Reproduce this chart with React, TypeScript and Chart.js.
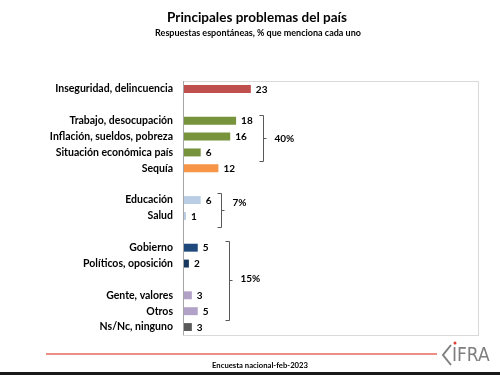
import React, { useEffect, useRef } from 'react';
import { Chart, registerables } from 'chart.js';
Chart.register(...registerables);

const titleText = 'Principales problemas del país';
const subtitleText = 'Respuestas espontáneas, % que menciona cada uno';
const footerText = 'Encuesta nacional-feb-2023';

const categories = [
  'Inseguridad, delincuencia', '',
  'Trabajo, desocupación', 'Inflación, sueldos, pobreza', 'Situación económica país', 'Sequía', '',
  'Educación', 'Salud', '',
  'Gobierno', 'Políticos, oposición', '',
  'Gente, valores', 'Otros', 'Ns/Nc, ninguno',
];
const values: (number | null)[] = [23, null, 18, 16, 6, 12, null, 6, 1, null, 5, 2, null, 3, 5, 3];
const barColors = [
  '#C0504D', '#ffffff',
  '#77933C', '#77933C', '#77933C', '#F79646', '#ffffff',
  '#B9CDE5', '#B9CDE5', '#ffffff',
  '#1F497D', '#17375E', '#ffffff',
  '#B3A2C7', '#B3A2C7', '#595959',
];
const xMax = 100;

const bracketLabels = ['40%', '7%', '15%'];
const bracketFrom = [1.64, 6.53, 9.57];
const bracketTo = [4.54, 8.67, 14.55];
const bracketMid = [3.09, 7.6, 12.06];
const bracketLabelPos = [3.15, 7.15, 11.95];
const bracketX = [27, 12.9, 15.6];

const FONT = 'Lato, "Open Sans", sans-serif';

const decorPlugin = {
  id: 'decor',
  beforeDraw(chart: any) {
    const { ctx, chartArea } = chart;
    ctx.save();
    ctx.fillStyle = '#ffffff';
    ctx.fillRect(0, 0, chart.width, chart.height);
    ctx.strokeStyle = '#d9d9d9';
    ctx.lineWidth = 1;
    ctx.strokeRect(chartArea.left + 0.5, chartArea.top + 0.5, chartArea.right - chartArea.left, chartArea.bottom - chartArea.top);
    ctx.restore();
  },
  afterDraw(chart: any) {
    const { ctx, chartArea } = chart;
    const xs = chart.scales.x;
    const ys = chart.scales.y;
    const y0 = ys.getPixelForValue(0);
    const step = ys.getPixelForValue(1) - y0;
    const catPos = (v: number) => y0 + v * step;
    ctx.save();
    ctx.strokeStyle = '#a6a6a6';
    ctx.lineWidth = 1;
    ctx.beginPath();
    ctx.moveTo(chartArea.left + 0.5, chartArea.top);
    ctx.lineTo(chartArea.left + 0.5, chartArea.bottom);
    ctx.stroke();

    ctx.fillStyle = '#000000';
    ctx.font = `bold 10px ${FONT}`;
    ctx.textAlign = 'left';
    ctx.textBaseline = 'middle';
    values.forEach((v, i) => {
      if (v === null) return;
      const x = xs.getPixelForValue(v);
      const y = ys.getPixelForValue(i);
      ctx.fillText(String(v), x + 5, y + 0.5);
    });

    ctx.strokeStyle = '#595959';
    ctx.lineWidth = 1;
    bracketLabels.forEach((lab, i) => {
      const x = Math.round(xs.getPixelForValue(bracketX[i])) + 0.5;
      const top = Math.round(catPos(bracketFrom[i])) + 0.5;
      const bot = Math.round(catPos(bracketTo[i])) + 0.5;
      const mid = Math.round(catPos(bracketMid[i])) + 0.5;
      ctx.beginPath();
      ctx.moveTo(x - 4, top);
      ctx.lineTo(x, top);
      ctx.lineTo(x, bot);
      ctx.lineTo(x - 4, bot);
      ctx.moveTo(x, mid);
      ctx.lineTo(x + 3, mid);
      ctx.stroke();
      ctx.fillStyle = '#000000';
      ctx.font = `bold 10px ${FONT}`;
      ctx.textAlign = 'left';
      ctx.fillText(lab, x + 11, catPos(bracketLabelPos[i]));
    });

    ctx.fillStyle = '#000000';
    ctx.textAlign = 'center';
    ctx.textBaseline = 'middle';
    ctx.font = `bold 13.5px ${FONT}`;
    ctx.fillText(titleText, 257, 18);
    ctx.font = `bold 9px ${FONT}`;
    ctx.fillText(subtitleText, 258, 33);

    ctx.strokeStyle = '#E8675C';
    ctx.lineWidth = 1.5;
    ctx.beginPath();
    ctx.moveTo(46, 354);
    ctx.lineTo(437, 354);
    ctx.stroke();

    ctx.fillStyle = '#000000';
    ctx.font = `bold 7.7px ${FONT}`;
    ctx.fillText(footerText, 260, 366);

    ctx.strokeStyle = '#7f7f7f';
    ctx.lineWidth = 2;
    ctx.beginPath();
    ctx.moveTo(451, 345);
    ctx.lineTo(443, 355);
    ctx.lineTo(451, 365);
    ctx.stroke();
    ctx.fillStyle = '#7f7f7f';
    ctx.font = `19px "Liberation Sans Narrow", "DejaVu Sans Condensed", sans-serif`;
    ctx.textAlign = 'left';
    ctx.fillText('IFRA', 452, 356);
    ctx.fillStyle = '#E03C31';
    ctx.beginPath();
    ctx.arc(455, 343, 1.5, 0, Math.PI * 2);
    ctx.fill();

    ctx.fillStyle = '#1a1a1a';
    ctx.fillRect(0, 372, chart.width, 3);
    ctx.restore();
  },
};

export default function App() {
  const ref = useRef<HTMLCanvasElement>(null);
  useEffect(() => {
    document.body.style.margin = '0';
    const chart = new Chart(ref.current!, {
      type: 'bar',
      data: {
        labels: categories,
        datasets: [{
          data: values as any,
          backgroundColor: barColors,
          barPercentage: 0.5,
          categoryPercentage: 1,
        }],
      },
      options: {
        indexAxis: 'y',
        animation: false,
        responsive: false,
        maintainAspectRatio: false,
        layout: { padding: { top: 81, bottom: 40, right: 22, left: 0 } },
        plugins: { legend: { display: false }, tooltip: { enabled: false }, title: { display: false } },
        scales: {
          x: { display: false, min: 0, max: xMax },
          y: {
            grid: { display: false, drawTicks: false },
            border: { display: false },
            ticks: {
              color: '#000000',
              font: { family: FONT, size: 10.5, weight: 'bold' },
              padding: 10,
              autoSkip: false,
            },
            afterFit: (scale: any) => { scale.width = 183; },
          },
        },
      },
      plugins: [decorPlugin],
    });
    return () => chart.destroy();
  }, []);
  return (
    <div style={{ width: 500, height: 375 }}>
      <canvas ref={ref} width={500} height={375} style={{ display: 'block' }} />
    </div>
  );
}
